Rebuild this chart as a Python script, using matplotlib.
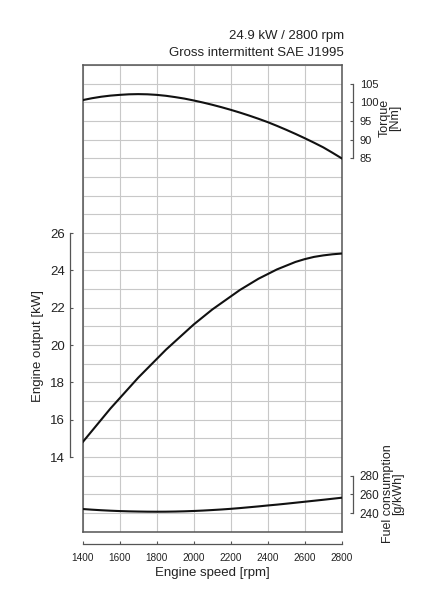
import numpy as np
import matplotlib
matplotlib.use('Agg')
import matplotlib.pyplot as plt

plt.rcParams['font.family'] = ['Liberation Sans', 'DejaVu Sans']

TXT = '#222222'
FRAME = '#555555'
GRID = '#c8c8c8'

# values, every 50 rpm
rpm = [1400, 1450, 1500, 1550, 1600, 1650, 1700, 1750, 1800, 1850, 1900, 1950, 2000, 2050,
       2100, 2150, 2200, 2250, 2300, 2350, 2400, 2450, 2500, 2550, 2600, 2650, 2700, 2750, 2800]
torque = [100.6, 101.1, 101.5, 101.8, 102.0, 102.15, 102.2, 102.15, 102.0, 101.75, 101.4,
          101.0, 100.5, 99.95, 99.35, 98.7, 98.0, 97.25, 96.45, 95.6, 94.7, 93.7, 92.65,
          91.55, 90.4, 89.2, 87.95, 86.5, 85.0]
output = [14.8, 15.4, 16.0, 16.6, 17.15, 17.7, 18.25, 18.75, 19.25, 19.75, 20.2, 20.65,
          21.1, 21.5, 21.9, 22.25, 22.6, 22.95, 23.25, 23.55, 23.8, 24.05, 24.25, 24.45,
          24.6, 24.72, 24.8, 24.86, 24.9]
fuel = [244.3, 243.6, 243.0, 242.5, 242.1, 241.8, 241.6, 241.45, 241.4, 241.45, 241.6,
        241.85, 242.2, 242.65, 243.2, 243.8, 244.5, 245.3, 246.2, 247.1, 248.1, 249.0,
        250.0, 251.05, 252.1, 253.15, 254.2, 255.3, 256.4]

x_ticks = [1400, 1600, 1800, 2000, 2200, 2400, 2600, 2800]
p_ticks = [14, 16, 18, 20, 22, 24, 26]
t_ticks = [85, 90, 95, 100, 105]
f_ticks = [240, 260, 280]

W, H = 442, 611
fig = plt.figure(figsize=(W / 100, H / 100), dpi=100)
rect = [82.7 / W, 1 - 531.7 / H, 259 / W, 466.7 / H]

# grid + frame
ax = fig.add_axes(rect)
ax.set_xlim(1400, 2800)
ax.set_ylim(0, 25)
ax.set_xticks(np.arange(1400, 2801, 200))
ax.set_yticks(np.arange(0, 26, 1))
ax.grid(True, color=GRID, lw=0.8)
ax.tick_params(length=0, labelbottom=False, labelleft=False)
for s in ax.spines.values():
    s.set_color(FRAME)
    s.set_linewidth(1.1)

# engine output on left, speed at bottom
ax_p = fig.add_axes(rect)
ax_p.patch.set_visible(False)
ax_p.set_xlim(1400, 2800)
ax_p.set_ylim(10, 35)
for k in ['top', 'right']:
    ax_p.spines[k].set_visible(False)
ax_p.spines['left'].set_position(('outward', 9))
ax_p.spines['left'].set_bounds(14, 26)
ax_p.spines['bottom'].set_position(('outward', 8.5))
ax_p.spines['bottom'].set_bounds(1400, 2800)
for k in ['left', 'bottom']:
    ax_p.spines[k].set_color(FRAME)
    ax_p.spines[k].set_linewidth(0.9)
ax_p.set_xticks(x_ticks)
ax_p.set_yticks(p_ticks)
ax_p.tick_params(axis='x', direction='in', length=2.5, color=FRAME, pad=7,
                 labelsize=7.2, labelcolor=TXT)
ax_p.tick_params(axis='y', direction='in', length=2.5, color=FRAME, pad=4,
                 labelsize=9.5, labelcolor=TXT)
ax_p.plot(rpm, output, color='#111111', lw=1.5)

# torque on right
ax_t = ax_p.twinx()
ax_t.set_ylim(-15, 110)
for k in ['top', 'left', 'bottom']:
    ax_t.spines[k].set_visible(False)
ax_t.spines['right'].set_position(('outward', 8))
ax_t.spines['right'].set_bounds(85, 105)
ax_t.spines['right'].set_color(FRAME)
ax_t.spines['right'].set_linewidth(0.9)
ax_t.set_yticks(t_ticks)
ax_t.tick_params(axis='y', direction='in', length=2.5, color=FRAME, pad=5,
                 labelsize=8, labelcolor=TXT)
ax_t.plot(rpm, torque, color='#111111', lw=1.5)

# fuel consumption on right
ax_f = ax_p.twinx()
ax_f.set_ylim(220, 720)
for k in ['top', 'left', 'bottom']:
    ax_f.spines[k].set_visible(False)
ax_f.spines['right'].set_position(('outward', 8))
ax_f.spines['right'].set_bounds(240, 280)
ax_f.spines['right'].set_color(FRAME)
ax_f.spines['right'].set_linewidth(0.9)
ax_f.set_yticks(f_ticks)
ax_f.tick_params(axis='y', direction='in', length=2.5, color=FRAME, pad=5,
                 labelsize=8.5, labelcolor=TXT)
ax_f.plot(rpm, fuel, color='#111111', lw=1.5)

# texts
fig.text(344 / W, 1 - 36 / H, '24.9 kW / 2800 rpm', ha='right', va='center',
         fontsize=9.5, color=TXT)
fig.text(344 / W, 1 - 53 / H, 'Gross intermittent SAE J1995', ha='right', va='center',
         fontsize=9.5, color=TXT)
fig.text(38 / W, 1 - 346 / H, 'Engine output [kW]', rotation=90, ha='center', va='center',
         fontsize=9.5, color=TXT)
fig.text(212 / W, 1 - 573 / H, 'Engine speed [rpm]', ha='center', va='center',
         fontsize=9.5, color=TXT)
fig.text(390 / W, 1 - 118 / H, 'Torque\n[Nm]', rotation=90, ha='center', va='center',
         fontsize=9, color=TXT, linespacing=0.85, multialignment='center')
fig.text(393 / W, 1 - 494 / H, 'Fuel consumption\n[g/kWh]', rotation=90, ha='center',
         va='center', fontsize=9, color=TXT, linespacing=0.85, multialignment='center')

fig.savefig('out.png', dpi=100)
